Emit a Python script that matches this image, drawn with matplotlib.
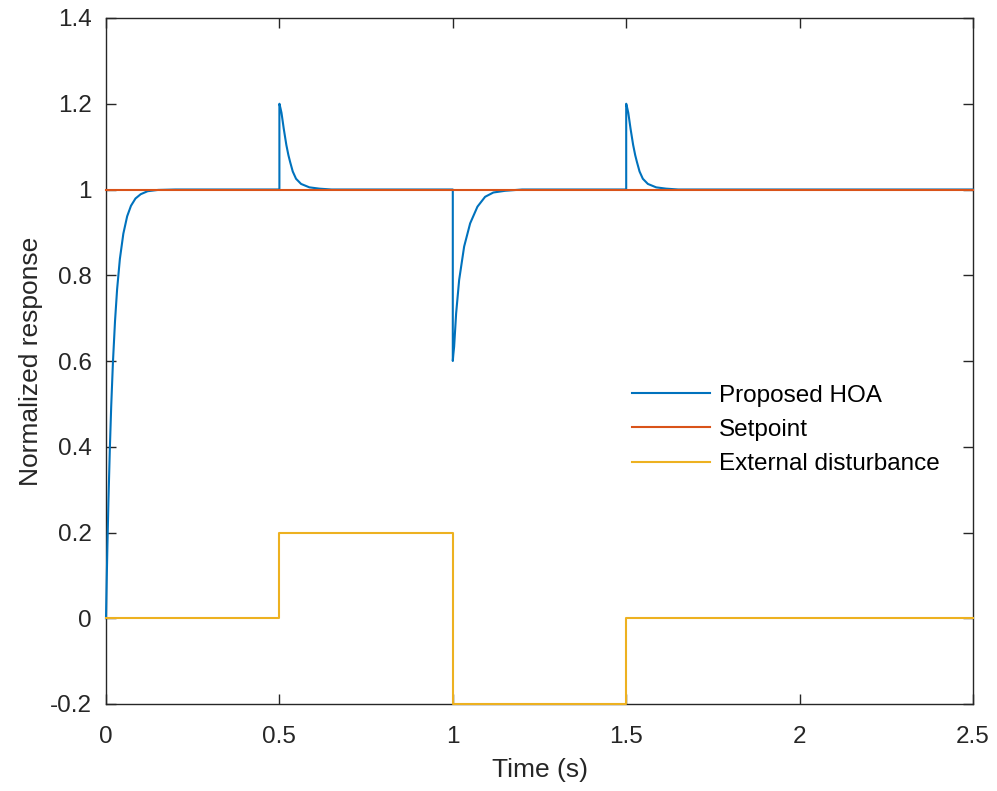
import matplotlib
matplotlib.use("Agg")
import matplotlib.pyplot as plt

plt.rcParams['font.family'] = ['Liberation Sans', 'DejaVu Sans']
plt.rcParams['axes.unicode_minus'] = False

# ---- data ----
# Proposed HOA response (time in s, normalized value)
hoa_t = [0.0, 0.002, 0.004, 0.007, 0.011, 0.015, 0.020, 0.026, 0.032, 0.040,
         0.050, 0.061, 0.072, 0.085, 0.100, 0.120, 0.150, 0.200,
         0.500, 0.500, 0.503, 0.506, 0.5125, 0.520, 0.526, 0.531, 0.5385,
         0.548, 0.5625, 0.5865, 0.615, 0.650,
         1.000, 1.000, 1.0015, 1.0038, 1.0096, 1.0183, 1.0327, 1.050, 1.0711,
         1.0932, 1.117, 1.151, 1.200,
         1.500, 1.500, 1.503, 1.506, 1.5125, 1.520, 1.526, 1.531, 1.5385,
         1.548, 1.5625, 1.5865, 1.615, 1.650, 2.500]
hoa_v = [0.0, 0.087, 0.166, 0.273, 0.393, 0.494, 0.597, 0.693, 0.767, 0.838,
         0.897, 0.9375, 0.962, 0.979, 0.989, 0.996, 0.999, 1.0,
         1.0, 1.2, 1.19, 1.179, 1.142, 1.104, 1.080, 1.064, 1.042,
         1.025, 1.013, 1.005, 1.002, 1.0,
         1.0, 0.6, 0.615, 0.633, 0.711, 0.789, 0.867, 0.921, 0.960,
         0.983, 0.993, 0.997, 1.0,
         1.0, 1.2, 1.19, 1.179, 1.142, 1.104, 1.080, 1.064, 1.042,
         1.025, 1.013, 1.005, 1.002, 1.0, 1.0]

setpoint_t = [0.0, 2.5]
setpoint_v = [1.0, 1.0]

dist_t = [0.0, 0.5, 1.0, 1.5, 2.5]
dist_v = [0.0, 0.2, -0.2, 0.0, 0.0]

labels = ['Proposed HOA', 'Setpoint', 'External disturbance']
colors = ['#0072BD', '#D95319', '#EDB120']

xticks = [0, 0.5, 1, 1.5, 2, 2.5]
xticklabels = ['0', '0.5', '1', '1.5', '2', '2.5']
yticks = [-0.2, 0, 0.2, 0.4, 0.6, 0.8, 1.0, 1.2, 1.4]
yticklabels = ['-0.2', '0', '0.2', '0.4', '0.6', '0.8', '1', '1.2', '1.4']

# ---- figure ----
fig = plt.figure(figsize=(9.97, 7.91), dpi=100)
ax = fig.add_axes([106/997, 1 - 704/791, (973-106)/997, (704-18)/791])

lw = 1.5
ax.plot(hoa_t, hoa_v, color=colors[0], lw=lw, label=labels[0], clip_on=False, zorder=3)
ax.plot(setpoint_t, setpoint_v, color=colors[1], lw=lw, label=labels[1], clip_on=False, zorder=4)
ax.plot(dist_t, dist_v, color=colors[2], lw=lw, label=labels[2], drawstyle='steps-post',
        clip_on=False, zorder=5)

ax.set_xlim(0, 2.5)
ax.set_ylim(-0.2, 1.4)
ax.set_xticks(xticks)
ax.set_xticklabels(xticklabels)
ax.set_yticks(yticks)
ax.set_yticklabels(yticklabels)

spine_col = '#262626'
for s in ax.spines.values():
    s.set_color(spine_col)
    s.set_linewidth(1.0)
ax.tick_params(direction='in', length=7, width=1.0, colors=spine_col,
               top=True, right=True, labelsize=17.5)
ax.tick_params(axis='x', pad=16)
ax.tick_params(axis='y', pad=10)
for lab in ax.get_xticklabels() + ax.get_yticklabels():
    lab.set_color('#262626')

ax.set_xlabel('Time (s)', fontsize=19, color='#262626', labelpad=7)
ax.set_ylabel('Normalized response', fontsize=19, color='#262626', labelpad=5)

leg = ax.legend(loc='center left', bbox_to_anchor=(632/997, 1 - 430/791),
                bbox_transform=fig.transFigure, frameon=False, fontsize=17.5,
                handlelength=3.2, handletextpad=0.37, labelspacing=0.5,
                borderpad=0, borderaxespad=0)
for t in leg.get_texts():
    t.set_color('black')

fig.savefig('out.png', dpi=100)
